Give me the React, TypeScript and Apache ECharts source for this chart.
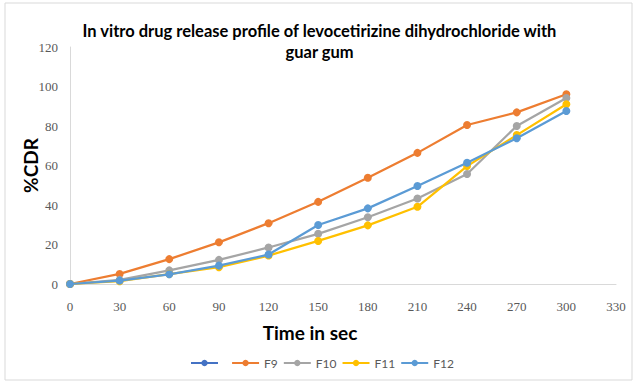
import React, { useEffect, useRef } from "react";
import * as echarts from "echarts";

const timePoints = [0, 30, 60, 90, 120, 150, 180, 210, 240, 270, 300];
const seriesNames = [" ", "F9", "F10", "F11", "F12"];
const seriesColors = ["#4472C4", "#ED7D31", "#A5A5A5", "#FFC000", "#5B9BD5"];
const s1: (number | null)[] = [];
const f9 = [0, 5.1, 12.6, 21.1, 30.8, 41.6, 53.8, 66.4, 80.5, 86.9, 96.1];
const f10 = [0, 2.1, 6.9, 12.2, 18.5, 25.4, 33.8, 43.3, 55.7, 80.0, 94.2];
const f11 = [0, 1.4, 5.0, 8.5, 14.4, 21.8, 29.7, 39.1, 59.7, 75.4, 91.0];
const f12 = [0, 1.7, 4.9, 9.3, 14.9, 29.9, 38.3, 49.6, 61.4, 73.8, 87.6];
const xTicks = { min: 0, max: 330, interval: 30 };
const yTicks = { min: 0, max: 120, interval: 20 };
const titleText = "In vitro drug release profile of levocetirizine dihydrochloride with\nguar gum";
const xName = "Time in sec";
const yName = "%CDR";

export default function App() {
  const ref = useRef<HTMLDivElement>(null);
  useEffect(() => {
    document.body.style.margin = "0";
    const chart = echarts.init(ref.current!, null, { renderer: "svg" });
    const allData = [s1, f9, f10, f11, f12];
    chart.setOption({
      animation: false,
      backgroundColor: "#ffffff",
      graphic: [
        {
          type: "rect",
          shape: { x: 5, y: 3, width: 627, height: 377 },
          style: { fill: "none", stroke: "#d9d9d9", lineWidth: 1 },
          silent: true,
        },
      ],
      title: {
        text: titleText,
        left: "center",
        top: 15,
        textStyle: {
          fontFamily: "Lato",
          fontWeight: "bold",
          fontSize: 16.5,
          color: "#000000",
          lineHeight: 21,
        },
      },
      legend: {
        left: 185,
        top: 352,
        itemWidth: 27,
        itemHeight: 8,
        itemGap: 5,
        data: seriesNames,
        textStyle: { fontFamily: "Lato", fontSize: 12, color: "#595959" },
      },
      grid: { left: 70, right: 23, top: 47, bottom: 101, containLabel: false },
      xAxis: {
        type: "value",
        ...xTicks,
        name: xName,
        nameLocation: "middle",
        nameGap: 39,
        nameMoveOverlap: false,
        nameTextStyle: {
          fontFamily: "Lato",
          fontWeight: "bold",
          fontSize: 19,
          color: "#000",
          padding: [0, 66, 0, 0],
        },
        axisLine: { show: true, lineStyle: { color: "#d9d9d9", width: 1 } },
        axisTick: { show: false },
        splitLine: { show: false },
        axisLabel: { fontFamily: "Liberation Serif", fontSize: 13, color: "#595959", margin: 16 },
      },
      yAxis: {
        type: "value",
        ...yTicks,
        name: yName,
        nameLocation: "middle",
        nameGap: 30,
        nameMoveOverlap: false,
        nameTextStyle: { fontFamily: "Lato", fontWeight: "bold", fontSize: 19, color: "#000" },
        axisLine: { show: true, lineStyle: { color: "#d9d9d9", width: 1 } },
        axisTick: { show: false },
        splitLine: { show: false },
        axisLabel: { fontFamily: "Liberation Serif", fontSize: 13, color: "#595959", margin: 12 },
      },
      series: seriesNames.map((name, i) => ({
        name,
        type: "line",
        data: allData[i].map((v, j) => [timePoints[j], v]),
        color: seriesColors[i],
        symbol: "circle",
        symbolSize: 8,
        lineStyle: { width: 2.25 },
        z: 2 + i,
      })),
    });
    return () => chart.dispose();
  }, []);
  return <div ref={ref} style={{ width: 639, height: 385 }} />;
}
